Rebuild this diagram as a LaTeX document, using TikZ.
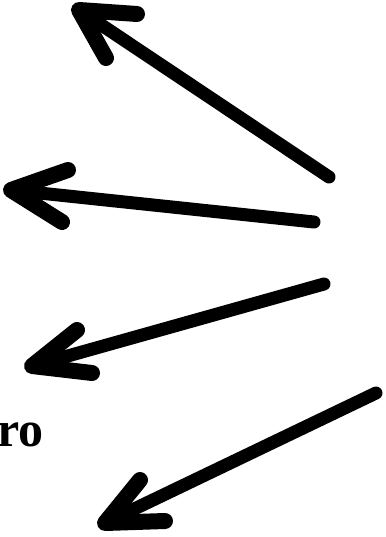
\documentclass[tikz,border=0pt]{standalone}
\usepackage{fontspec}
\setmainfont{Liberation Serif}
\begin{document}
\begin{tikzpicture}[x=1pt,y=-1pt,
  shaft/.style={line width=13pt,line cap=round,line join=round},
  headline/.style={line width=16pt,line cap=round,line join=round}]
\useasboundingbox (0,0) rectangle (385,537);
% arrow 1
\coordinate (t1) at (329,177);
\coordinate (h1) at (79,10);
\coordinate (a1) at (137,14);
\coordinate (b1) at (106,58);
% arrow 2
\coordinate (t2) at (314,222);
\coordinate (h2) at (11,190);
\coordinate (a2) at (68,170);
\coordinate (b2) at (62,222);
% arrow 3
\coordinate (t3) at (324,284);
\coordinate (h3) at (32,366);
\coordinate (a3) at (77,330);
\coordinate (b3) at (92,373);
% arrow 4
\coordinate (t4) at (376,393);
\coordinate (h4) at (105,523);
\coordinate (a4) at (140,480);
\coordinate (b4) at (165,521);
\foreach \i in {1,2,3,4}{
  \draw[shaft] (t\i) -- (h\i);
  \draw[headline] (a\i) -- (h\i) -- (b\i);
}
\node[anchor=base east,inner sep=0pt,font=\fontsize{50}{55}\selectfont\bfseries] (txt) at (44,446) {ro};
\end{tikzpicture}
\end{document}
